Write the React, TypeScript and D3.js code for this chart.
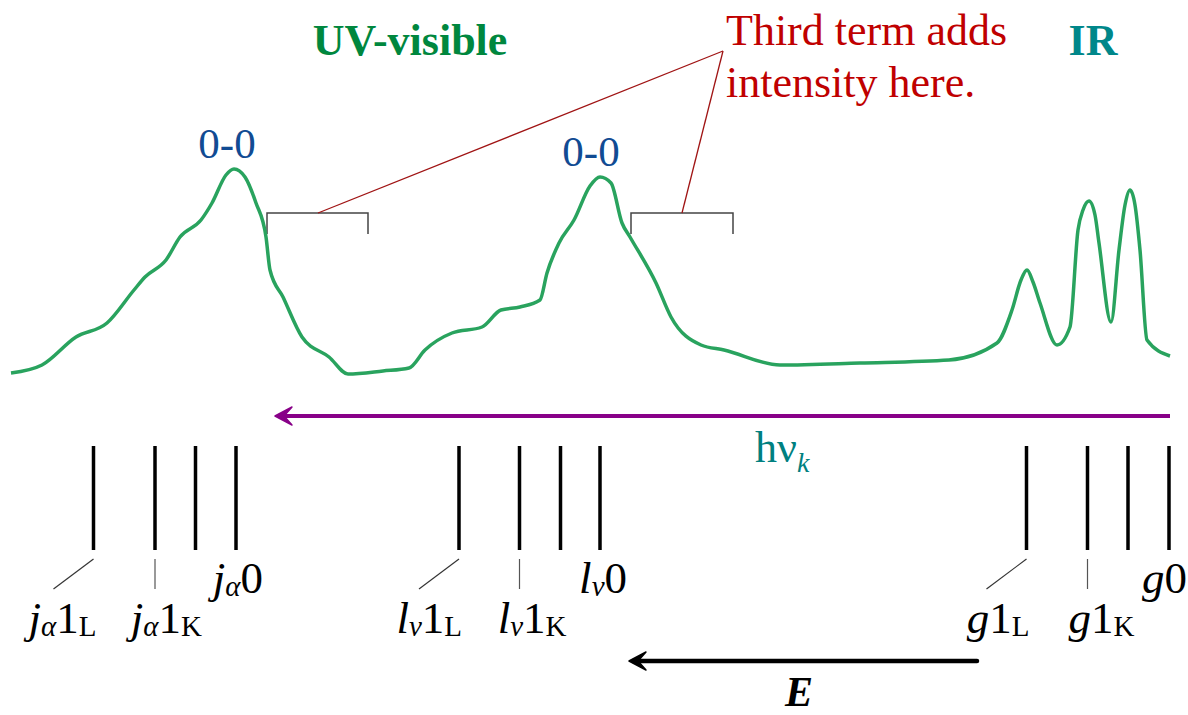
import React, { useEffect, useRef } from 'react';
import * as d3 from 'd3';

// spectrum trace: energy position (low energy on the right) and relative intensity
const traceEnergy = [
  11, 42, 76, 107, 134, 145, 166, 180, 201, 212, 226, 234, 245, 256, 266, 270, 283, 302, 329, 348,
  383, 409, 425, 452, 482, 501, 520, 540, 547, 559, 574, 590, 600, 611, 622, 630, 656, 671, 701, 724,
  780, 860, 949, 997, 1012, 1021, 1027, 1033, 1040, 1057, 1070, 1078, 1083, 1089, 1095, 1099, 1111,
  1119, 1125, 1130, 1135, 1140, 1147, 1170,
];
const traceIntensity = [
  7, 15, 43, 57, 90, 103, 120, 143, 160, 177, 205, 211, 203, 177, 143, 110, 83, 43, 23, 6,
  9, 12, 30, 47, 53, 70, 73, 80, 107, 137, 160, 194, 203, 197, 157, 143, 97, 63, 35, 30,
  15, 17, 20, 37, 70, 100, 110, 98, 77, 35, 53, 150, 170, 179, 165, 137, 58,
  130, 175, 190, 175, 130, 40, 24,
];

// vibronic levels
const stickEnergy = [93.5, 155, 195.5, 236, 459, 519.5, 560.5, 600, 1026.5, 1087.5, 1128, 1169];
const stickBase = ['j', 'j', '', 'j', 'l', 'l', '', 'l', 'g', 'g', '', 'g'];
const stickBaseSub = ['α', 'α', '', 'α', 'ν', 'ν', '', 'ν', '', '', '', ''];
const stickNum = ['1', '1', '', '0', '1', '1', '', '0', '1', '1', '', '0'];
const stickKind = ['L', 'K', '', '0', 'L', 'K', '', '0', 'L', 'K', '', '0'];

// where the third term adds intensity
const thirdTermStart = [267, 631];
const thirdTermEnd = [368, 733];
const bracketLevel = 167;

// origin (0-0) bands
const originEnergy = [236, 600];
const originIntensity = [211, 203];

const photonRange = [275, 1170];
const energyArrow = [629, 977];

const serif = "'Liberation Serif', 'Times New Roman', serif";

function App() {
  const ref = useRef<SVGSVGElement>(null);

  useEffect(() => {
    const w = 1188;
    const h = 715;
    const svg = d3.select(ref.current).attr('width', w).attr('height', h);
    svg.selectAll('*').remove();

    const x = d3.scaleLinear().domain([0, 1188]).range([0, w]);
    const y = d3.scaleLinear().domain([0, 220]).range([380, 160]);

    // TITLES
    svg.append('text').text('UV-visible')
      .attr('x', 410).attr('y', 55).attr('text-anchor', 'middle')
      .attr('font-family', serif).attr('font-weight', 'bold').attr('font-size', 44)
      .attr('fill', '#00873e');
    svg.append('text').text('IR')
      .attr('x', 1093).attr('y', 55).attr('text-anchor', 'middle')
      .attr('font-family', serif).attr('font-weight', 'bold').attr('font-size', 44)
      .attr('fill', '#00878a');

    // ANNOTATION
    const noteX = 726;
    const note = svg.append('text')
      .attr('font-family', serif).attr('font-size', 44).attr('fill', '#c00000');
    note.append('tspan').attr('x', noteX).attr('y', 45).text('Third term adds');
    note.append('tspan').attr('x', noteX).attr('y', 97).text('intensity here.');

    const bracketY = y(bracketLevel);
    thirdTermStart.forEach((s, i) => {
      const x0 = x(s);
      const x1 = x(thirdTermEnd[i]);
      svg.append('path')
        .attr('d', `M${x0},${bracketY + 21}V${bracketY}H${x1}V${bracketY + 21}`)
        .attr('fill', 'none').attr('stroke', '#444').attr('stroke-width', 1.5);
    });
    svg.append('line')
      .attr('x1', x(thirdTermStart[0]) + 51).attr('y1', bracketY)
      .attr('x2', noteX - 3).attr('y2', 51)
      .attr('stroke', '#a01414').attr('stroke-width', 1.3);
    svg.append('line')
      .attr('x1', x(thirdTermStart[1]) + 51).attr('y1', bracketY)
      .attr('x2', noteX - 3).attr('y2', 51)
      .attr('stroke', '#a01414').attr('stroke-width', 1.3);

    // SPECTRUM
    const pts: [number, number][] = traceEnergy.map((e, i) => [x(e), y(traceIntensity[i])]);
    const line = d3.line().curve(d3.curveMonotoneX);
    svg.append('path')
      .attr('d', line(pts))
      .attr('fill', 'none')
      .attr('stroke', '#29a35e')
      .attr('stroke-width', 3.5)
      .attr('stroke-linejoin', 'round');

    originEnergy.forEach((e, i) => {
      svg.append('text').text('0-0')
        .attr('x', x(e) - 9).attr('y', y(originIntensity[i]) - 11)
        .attr('text-anchor', 'middle')
        .attr('font-family', serif).attr('font-size', 43).attr('fill', '#114b93');
    });

    // ARROWS
    const arrowHead = (tx: number, ty: number, color: string) => {
      svg.append('path')
        .attr('d', `M${tx},${ty}L${tx + 17},${ty - 9}L${tx + 9},${ty}L${tx + 17},${ty + 9}Z`)
        .attr('fill', color).attr('stroke', color).attr('stroke-width', 1.5)
        .attr('stroke-linejoin', 'round');
    };
    svg.append('line')
      .attr('x1', x(photonRange[1])).attr('x2', x(photonRange[0]) + 8)
      .attr('y1', 416).attr('y2', 416)
      .attr('stroke', '#880088').attr('stroke-width', 4);
    arrowHead(x(photonRange[0]), 416, '#880088');

    const hv = svg.append('text').attr('x', 755).attr('y', 462)
      .attr('font-family', serif).attr('font-size', 44).attr('fill', '#008080');
    hv.append('tspan').text('hν');
    hv.append('tspan').attr('font-size', 28).attr('font-style', 'italic').attr('dy', 10).text('k');

    svg.append('line')
      .attr('x1', x(energyArrow[1])).attr('x2', x(energyArrow[0]) + 8)
      .attr('y1', 661).attr('y2', 661)
      .attr('stroke', '#000').attr('stroke-width', 4.5).attr('stroke-linecap', 'round');
    arrowHead(x(energyArrow[0]), 661, '#000');

    svg.append('text').text('E')
      .attr('x', 799).attr('y', 706).attr('text-anchor', 'middle')
      .attr('font-family', serif).attr('font-size', 42)
      .attr('font-weight', 'bold').attr('font-style', 'italic').attr('fill', '#000');

    // STICKS
    svg.append('g').selectAll('line')
      .data(stickEnergy)
      .join('line')
      .attr('x1', (d) => x(d)).attr('x2', (d) => x(d))
      .attr('y1', 446).attr('y2', 550)
      .attr('stroke', '#000').attr('stroke-width', 3.5);

    stickEnergy.forEach((e, i) => {
      const kind = stickKind[i];
      if (!kind) return;
      const sx = x(e);
      if (kind === 'L') {
        svg.append('line').attr('x1', sx).attr('y1', 559).attr('x2', sx - 40).attr('y2', 589)
          .attr('stroke', '#333').attr('stroke-width', 1.2);
      } else if (kind === 'K') {
        svg.append('line').attr('x1', sx).attr('y1', 559).attr('x2', sx).attr('y2', 589)
          .attr('stroke', '#555').attr('stroke-width', 1.2);
      }
      const endX = kind === 'L' ? sx + 3 : kind === 'K' ? sx + 47 : Math.min(sx + 27, w - 1);
      const baseY = kind === '0' ? 593 : 633;
      const t = svg.append('text')
        .attr('x', endX).attr('y', baseY).attr('text-anchor', 'end')
        .attr('font-family', serif).attr('font-size', 45).attr('fill', '#000');
      t.append('tspan').attr('font-style', 'italic').text(stickBase[i]);
      let shifted = false;
      if (stickBaseSub[i]) {
        t.append('tspan').attr('font-style', 'italic').attr('font-size', 29).attr('dy', 3)
          .text(stickBaseSub[i]);
        shifted = true;
      }
      t.append('tspan').attr('dy', shifted ? -3 : 0).text(stickNum[i]);
      if (kind === 'L' || kind === 'K') {
        t.append('tspan').attr('font-size', 29).attr('dy', 3).text(kind);
      }
    });
  });

  return (
    <div className="spectrum">
      <svg ref={ref} style={{ position: 'absolute', left: 0, top: 0, display: 'block' }}></svg>
    </div>
  );
}

export default App;
